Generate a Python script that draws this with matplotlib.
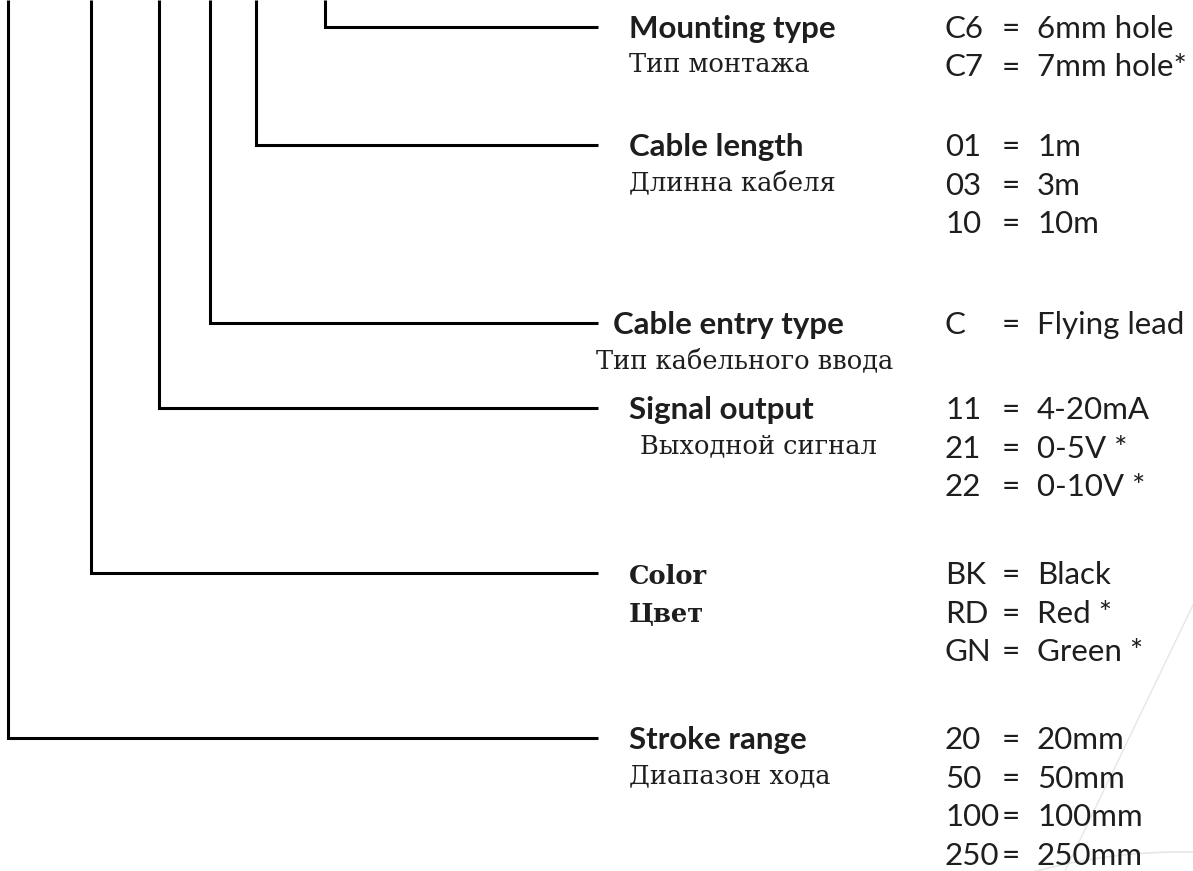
import matplotlib.pyplot as plt
import numpy as np

### ORDER CODE DIAGRAM ###

# option groups, top to bottom
titles_en = ["Mounting type", "Cable length", "Cable entry type", "Signal output", "Color", "Stroke range"]
titles_ru = ["Тип монтажа", "Длинна кабеля", "Тип кабельного ввода", "Выходной сигнал", "Цвет", "Диапазон хода"]
codes = [["C6", "C7"],
         ["01", "03", "10"],
         ["C"],
         ["11", "21", "22"],
         ["BK", "RD", "GN"],
         ["20", "50", "100", "250"]]
values = [["6mm hole", "7mm hole*"],
          ["1m", "3m", "10m"],
          ["Flying lead"],
          ["4-20mA", "0-5V *", "0-10V *"],
          ["Black", "Red *", "Green *"],
          ["20mm", "50mm", "100mm", "250mm"]]

# layout (pixels, y down)
W, H = 1193, 871
leader_x = [325, 256, 210, 159, 91, 8]       # vertical leader positions
base_y = [38, 156, 334, 419, 584, 749]       # baseline of first row in each group
title_x = [629, 629, 613, 629, 629, 629]
ru_x = [629, 629, 596, 640, 629, 629]
row_step = 38.5
line_end = 598
code_x, eq_x, val_x = 945, 1011, 1037

fig = plt.figure(figsize=(W / 100, H / 100), dpi=100)
ax = fig.add_axes([0, 0, 1, 1])
ax.set_xlim(0, W)
ax.set_ylim(H, 0)
ax.axis("off")

# faint watermark strokes bottom right
ax.plot([1193, 1065], [605, 871], color="#e6e6e6", lw=1)
t = np.linspace(np.pi * 1.2, np.pi * 1.8, 200)
ax.plot(1180 + 548 * np.cos(t), 1400 + 548 * np.sin(t), color="#e6e6e6", lw=1.2)

sans = "Lato"
serif = "DejaVu Serif"
ink = "#1e1e1e"

for i in range(len(titles_en)):
    yl = base_y[i] - 11
    ax.plot([leader_x[i], leader_x[i], line_end], [0, yl, yl], color="black", lw=2.2,
            solid_joinstyle="miter", solid_capstyle="butt")

    if titles_en[i] == "Color":
        ax.text(title_x[i], base_y[i], titles_en[i], fontsize=18.5, family=serif,
                weight="bold", color=ink, va="baseline")
        ax.text(ru_x[i], base_y[i] + 38, titles_ru[i], fontsize=18.5, family=serif,
                weight="bold", color=ink, va="baseline")
    else:
        ax.text(title_x[i], base_y[i], titles_en[i], fontsize=22.5, family=sans,
                weight="bold", color=ink, va="baseline")
        ax.text(ru_x[i], base_y[i] + 34, titles_ru[i], fontsize=18.5, family=serif,
                color=ink, va="baseline")

    for j in range(len(codes[i])):
        y = base_y[i] + j * row_step
        ax.text(code_x, y, codes[i][j], fontsize=22.5, family=sans, color=ink, va="baseline")
        ax.text(eq_x, y, "=", fontsize=22.5, family=sans, color=ink, va="baseline", ha="center")
        ax.text(val_x, y, values[i][j], fontsize=22.5, family=sans, color=ink, va="baseline")

fig.savefig("out.png", dpi=100, facecolor="white")
